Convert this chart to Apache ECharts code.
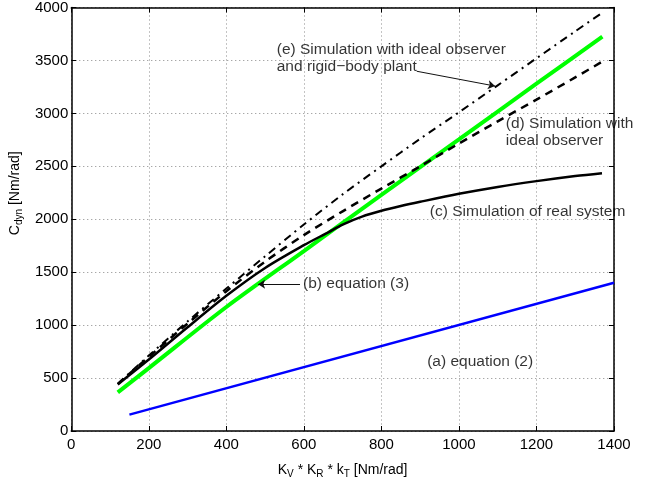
<!DOCTYPE html>
<html>
<head>
<meta charset="utf-8">
<script src="https://cdn.jsdelivr.net/npm/echarts@6/dist/echarts.min.js"></script>
<style>
  html, body { margin: 0; padding: 0; background: #fff; }
  #chart { width: 656px; height: 484px; }
</style>
</head>
<body>
<div id="chart"></div>
<script>
// (a) equation (2)
const xEq2 = [150, 1400];
const yEq2 = [155, 1400];
// (b) equation (3)
const xEq3 = [120, 200, 400, 600, 800, 1000, 1200, 1370];
const yEq3 = [365, 594, 1171, 1700, 2230, 2755, 3280, 3725];
// (c) simulation of real system
const xReal = [120, 200, 300, 400, 500, 600, 663, 700, 750, 800, 850, 900, 1000, 1100, 1200, 1300, 1369];
const yReal = [440, 675, 980, 1277, 1540, 1755, 1877, 1950, 2025, 2080, 2125, 2165, 2240, 2305, 2360, 2408, 2435];
// (d) simulation with ideal observer
const xObs = [120, 200, 300, 400, 500, 600, 700, 800, 900, 1000, 1100, 1200, 1300, 1368];
const yObs = [445, 700, 1015, 1320, 1600, 1850, 2075, 2290, 2500, 2715, 2925, 3130, 3340, 3485];
// (e) ideal observer and rigid-body plant
const xRigid = [120, 200, 300, 400, 500, 600, 700, 800, 900, 1000, 1100, 1200, 1300, 1364];
const yRigid = [445, 712, 1035, 1345, 1650, 1950, 2235, 2500, 2760, 3010, 3265, 3520, 3775, 3936];

const xTicks = [0, 1400, 200];
const yTicks = [0, 4000, 500];

// annotation texts, anchored at their left edge in data coords
const noteText = ['(e) Simulation with ideal observer\nand rigid\u2212body plant', '(d) Simulation with\nideal observer',
                  '(c) Simulation of real system', '(b) equation (3)', '(a) equation (2)'];
const noteX = [530, 1121, 925, 598, 918];
const noteY = [3522, 2826, 2069, 1387, 650];
// arrows: from -> to
const arrowFrom = [[891, 3398], [590, 1387]];
const arrowTo = [[1093, 3258], [482, 1387]];

function pairs(xs, ys) {
    return xs.map(function (x, i) { return [x, ys[i]]; });
}

var font = 'Liberation Sans, Arial, Helvetica, sans-serif';
var black = '#000';

var chart = echarts.init(document.getElementById('chart'));

var baseX = {
    type: 'value', min: xTicks[0], max: xTicks[1], interval: xTicks[2],
    axisLine: { show: true, onZero: false, lineStyle: { color: black, width: 1.5 } },
    axisTick: { show: true, inside: true, length: 5, lineStyle: { color: black } },
};
var baseY = {
    type: 'value', min: yTicks[0], max: yTicks[1], interval: yTicks[2],
    axisLine: { show: true, onZero: false, lineStyle: { color: black, width: 1.5 } },
    axisTick: { show: true, inside: true, length: 5, lineStyle: { color: black } },
};
var plain = function (v) { return String(v); };

var option = {
    animation: false,
    backgroundColor: '#fff',
    grid: { left: 71, right: 42, top: 7, bottom: 48.5 },
    xAxis: [
        Object.assign({}, baseX, {
            position: 'bottom',
            axisLabel: { color: '#000', fontFamily: font, fontSize: 15, margin: 6, formatter: plain },
            splitLine: { show: true, lineStyle: { color: '#888', type: [1, 3], width: 1 } },
            name: 'K{sub|V} * K{sub|R} * k{sub|T} [Nm/rad]',
            nameLocation: 'middle',
            nameGap: 30,
            nameTextStyle: {
                color: '#000', fontFamily: font, fontSize: 14,
                rich: { sub: { fontSize: 10, fontFamily: font, color: '#000', padding: [8, 0, 0, 0] } }
            }
        }),
        Object.assign({}, baseX, {
            position: 'top',
            axisLabel: { show: false },
            splitLine: { show: false }
        })
    ],
    yAxis: [
        Object.assign({}, baseY, {
            position: 'left',
            axisLabel: { color: '#000', fontFamily: font, fontSize: 15, margin: 3, formatter: plain },
            splitLine: { show: true, lineStyle: { color: '#888', type: [1, 3], width: 1 } },
            // leading blank token pushes the visible label upward along the axis
            name: '{gap| }C{sub|dyn} [Nm/rad]',
            nameLocation: 'middle',
            nameGap: 47,
            nameRotate: 90,
            nameTextStyle: {
                color: '#000', fontFamily: font, fontSize: 14,
                rich: {
                    gap: { width: 52, fontSize: 14 },
                    sub: { fontSize: 10, fontFamily: font, color: '#000', padding: [8, 0, 0, 0] }
                }
            }
        }),
        Object.assign({}, baseY, {
            position: 'right',
            axisLabel: { show: false },
            splitLine: { show: false }
        })
    ],
    series: [
        {
            name: '(a)', type: 'line', data: pairs(xEq2, yEq2), showSymbol: false,
            lineStyle: { color: '#0000ff', width: 2.5 }, z: 2
        },
        {
            name: '(b)', type: 'line', data: pairs(xEq3, yEq3), showSymbol: false, smooth: 0.3,
            lineStyle: { color: '#00ff00', width: 4 }, z: 2
        },
        {
            name: '(e)', type: 'line', data: pairs(xRigid, yRigid), showSymbol: false, smooth: 0.3,
            lineStyle: { color: black, width: 2, type: [8, 5, 2, 5] }, z: 3
        },
        {
            name: '(d)', type: 'line', data: pairs(xObs, yObs), showSymbol: false, smooth: 0.3,
            lineStyle: { color: black, width: 2.5, type: [8, 6] }, z: 3
        },
        {
            name: '(c)', type: 'line', data: pairs(xReal, yReal), showSymbol: false, smooth: 0.3,
            lineStyle: { color: black, width: 2.5 }, z: 4
        },
        {
            name: 'arrows', type: 'lines', coordinateSystem: 'cartesian2d',
            symbol: ['none', 'arrow'], symbolSize: 7,
            lineStyle: { color: '#111', width: 1, opacity: 1 },
            data: arrowFrom.map(function (p, i) { return { coords: [p, arrowTo[i]] }; }),
            z: 5
        },
        {
            name: 'notes', type: 'scatter', symbolSize: 0,
            data: noteX.map(function (x, i) { return { value: [x, noteY[i]], name: noteText[i] }; }),
            label: {
                show: true, position: 'right', distance: 0,
                formatter: function (p) { return p.name; },
                color: '#000', fontFamily: font, fontSize: 15.5, lineHeight: 17, align: 'left'
            },
            z: 6
        }
    ]
};

chart.setOption(option);
</script>
</body>
</html>
